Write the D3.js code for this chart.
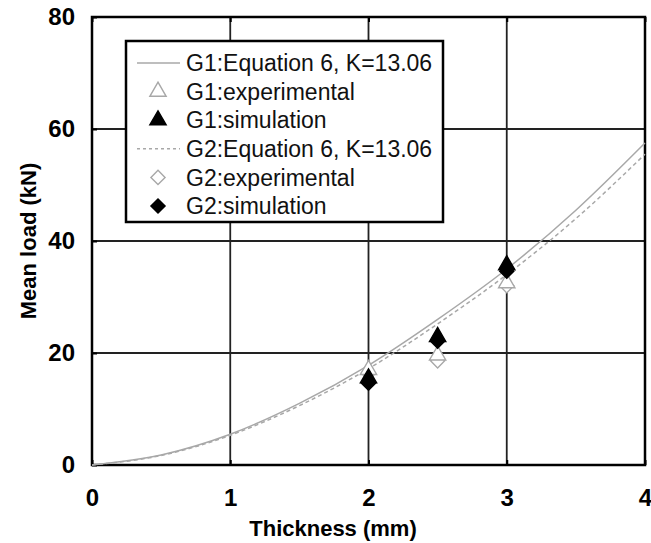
<!DOCTYPE html>
<html>
<head>
<meta charset="utf-8">
<script src="https://cdn.jsdelivr.net/npm/d3@7"></script>
<style>
  html, body { margin: 0; padding: 0; background: #fff; }
  svg { display: block; }
  text { font-family: "Liberation Sans", Arial, sans-serif; }
</style>
</head>
<body>
<svg id="chart" width="651" height="543"></svg>
<script>
// Equation 6 curves, sampled thickness (mm) vs mean load (kN)
const curveThickness = [0, 0.5, 1, 1.5, 2, 2.5, 3, 3.5, 4];
const g1Equation = [0, 1.8, 5.5, 11.0, 17.8, 26.0, 35.0, 45.5, 57.5];
const g2Equation = [0, 1.7, 5.3, 10.6, 17.2, 25.2, 34.0, 44.0, 55.5];

// Measured / simulated thicknesses and loads
const pointThickness = [2, 2.5, 3];
const g1Experimental = [17.0, 19.6, 32.5];
const g1Simulation = [15.5, 22.9, 35.7];
const g2Experimental = [16.4, 18.6, 32.0];
const g2Simulation = [14.6, 22.1, 34.6];

const xTicks = [0, 1, 2, 3, 4];
const yTicks = [0, 20, 40, 60, 80];

const legendLabels = [
  "G1:Equation 6, K=13.06",
  "G1:experimental",
  "G1:simulation",
  "G2:Equation 6, K=13.06",
  "G2:experimental",
  "G2:simulation"
];

const svg = d3.select("#chart");
const plotLeft = 92, plotRight = 645, plotTop = 17, plotBottom = 465;

const x = d3.scaleLinear().domain([0, 4]).range([plotLeft, plotRight]);
const y = d3.scaleLinear().domain([0, 80]).range([plotBottom, plotTop]);

// grid lines
const grid = svg.append("g");
grid.selectAll("line.vx").data(xTicks.slice(1, -1)).join("line")
  .attr("x1", d => x(d)).attr("x2", d => x(d))
  .attr("y1", plotTop).attr("y2", plotBottom)
  .attr("stroke", "#222").attr("stroke-width", 1.8);
grid.selectAll("line.hy").data(yTicks.slice(1, -1)).join("line")
  .attr("x1", plotLeft).attr("x2", plotRight)
  .attr("y1", d => y(d)).attr("y2", d => y(d))
  .attr("stroke", "#222").attr("stroke-width", 1.8);

// axes (ticks inward)
const xAxis = svg.append("g").attr("transform", `translate(0,${plotBottom})`)
  .call(d3.axisBottom(x).tickValues(xTicks).tickSize(-5).tickPadding(24).tickFormat(d3.format("d")));
const yAxis = svg.append("g").attr("transform", `translate(${plotLeft},0)`)
  .call(d3.axisLeft(y).tickValues(yTicks).tickSize(-5).tickPadding(17).tickFormat(d3.format("d")));
[xAxis, yAxis].forEach(a => {
  a.select(".domain").remove();
  a.selectAll("line").attr("stroke", "#000").attr("stroke-width", 2);
  a.selectAll("text").attr("font-size", 24).attr("font-weight", "bold").attr("fill", "#000")
    .style("font-family", "'Liberation Sans', Arial, sans-serif");
});
svg.append("g").attr("transform", `translate(0,${plotTop})`)
  .call(d3.axisTop(x).tickValues(xTicks).tickSize(-5).tickFormat(""))
  .call(g => g.select(".domain").remove())
  .selectAll("line").attr("stroke", "#000").attr("stroke-width", 2);

// frame
svg.append("rect")
  .attr("x", plotLeft).attr("y", plotTop)
  .attr("width", plotRight - plotLeft).attr("height", plotBottom - plotTop)
  .attr("fill", "none").attr("stroke", "#000").attr("stroke-width", 2.5);

// axis titles
svg.append("text").attr("x", 333).attr("y", 536)
  .attr("text-anchor", "middle").attr("font-size", 22).attr("font-weight", "bold")
  .text("Thickness (mm)");
svg.append("text").attr("transform", `translate(36,${y(40)}) rotate(-90)`)
  .attr("text-anchor", "middle").attr("font-size", 22).attr("font-weight", "bold")
  .text("Mean load (kN)");

// equation curves
const plot = svg.append("g");
const line = d3.line().x(d => x(d[0])).y(d => y(d[1])).curve(d3.curveMonotoneX);
plot.append("path").datum(d3.zip(curveThickness, g1Equation))
  .attr("d", line).attr("fill", "none").attr("stroke", "#a8a8a8").attr("stroke-width", 1.5);
plot.append("path").datum(d3.zip(curveThickness, g2Equation))
  .attr("d", line).attr("fill", "none").attr("stroke", "#a8a8a8").attr("stroke-width", 1.5)
  .attr("stroke-dasharray", "4,3");

// markers
const triangle = d3.symbol().type(d3.symbolTriangle).size(115);
const diamond = d3.symbol().type(d3.symbolSquare).size(100);
function drawMarkers(values, kind, filled) {
  const path = kind === "tri" ? triangle() : diamond();
  plot.append("g").selectAll("path").data(d3.zip(pointThickness, values)).join("path")
    .attr("d", path)
    .attr("transform", d => `translate(${x(d[0])},${y(d[1])})` + (kind === "tri" ? "" : " rotate(45)"))
    .attr("fill", filled ? "#000" : "#fff")
    .attr("stroke", filled ? "#000" : "#a8a8a8")
    .attr("stroke-width", 1.4);
}
drawMarkers(g2Experimental, "dia", false);
drawMarkers(g1Experimental, "tri", false);
drawMarkers(g1Simulation, "tri", true);
drawMarkers(g2Simulation, "dia", true);

// legend
const lg = svg.append("g");
lg.append("rect").attr("x", 126).attr("y", 41).attr("width", 317).attr("height", 181)
  .attr("fill", "#fff").attr("stroke", "#000").attr("stroke-width", 2.5);
const rowY = i => 63 + i * 28.6;
legendLabels.forEach((label, i) => {
  const cy = rowY(i);
  if (i === 0 || i === 3) {
    lg.append("line").attr("x1", 137).attr("x2", 180).attr("y1", cy).attr("y2", cy)
      .attr("stroke", "#a8a8a8").attr("stroke-width", 1.5)
      .attr("stroke-dasharray", i === 3 ? "3,3" : null);
  } else {
    const isTri = i === 1 || i === 2;
    const filled = i === 2 || i === 5;
    lg.append("path").attr("d", isTri ? triangle() : diamond())
      .attr("transform", `translate(158,${cy})` + (isTri ? "" : " rotate(45)"))
      .attr("fill", filled ? "#000" : "#fff")
      .attr("stroke", filled ? "#000" : "#a8a8a8").attr("stroke-width", 1.4);
  }
  lg.append("text").attr("x", 186).attr("y", cy).attr("dy", "0.36em")
    .attr("font-size", 23).attr("fill", "#111").text(label);
});
</script>
</body>
</html>
